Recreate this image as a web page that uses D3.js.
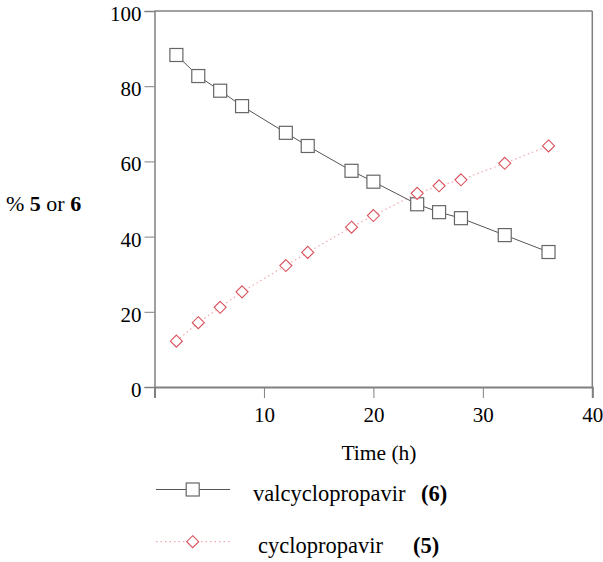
<!DOCTYPE html>
<html>
<head>
<meta charset="utf-8">
<script src="https://cdn.jsdelivr.net/npm/d3@7"></script>
<style>
  html, body { margin: 0; padding: 0; background: #fff; }
  svg { display: block; }
  svg text { font-family: "Liberation Serif", Tinos, "Times New Roman", Times, "DejaVu Serif", serif !important; }
</style>
</head>
<body>
<svg id="chart" width="603" height="562"></svg>
<script>
const timeH = [2, 4, 6, 8, 12, 14, 18, 20, 24, 26, 28, 32, 36];
const valcyclopropavir = [88.3, 82.7, 78.8, 74.7, 67.6, 64.1, 57.5, 54.6, 48.6, 46.5, 44.9, 40.4, 35.9];
const cyclopropavir = [12.2, 17.1, 21.2, 25.3, 32.3, 35.8, 42.5, 45.6, 51.5, 53.5, 55.1, 59.5, 64.1];
const xTicks = [0, 10, 20, 30, 40];
const xTickLabels = ["", "10", "20", "30", "40"];
const yTicks = [0, 20, 40, 60, 80, 100];
const seriesNames = ["valcyclopropavir", "cyclopropavir"];
const seriesTags = ["(6)", "(5)"];

(function () {
const svg = d3.select("#chart");
const pLeft = 154.5, pTop = 11, pRight = 592.3, pBottom = 387;
const x = d3.scaleLinear().domain([0, 40]).range([pLeft, pRight]);
const y = d3.scaleLinear().domain([0, 100]).range([pBottom, pTop]);
const axisColor = "#808080";

svg.append("line").attr("x1", pLeft).attr("x2", pRight).attr("y1", pTop).attr("y2", pTop)
  .attr("stroke", axisColor).attr("stroke-width", 1.5);
svg.append("line").attr("x1", pRight).attr("x2", pRight).attr("y1", pTop).attr("y2", pBottom)
  .attr("stroke", axisColor).attr("stroke-width", 1.5);

const xAxis = d3.axisBottom(x).tickValues(xTicks).tickSize(11).tickPadding(6)
  .tickFormat((d, i) => xTickLabels[i]);
const gx = svg.append("g").attr("transform", `translate(0,${pBottom})`).call(xAxis);
gx.attr("font-family", null);
gx.select(".domain").attr("stroke", axisColor).attr("stroke-width", 2);
gx.selectAll(".tick line").attr("stroke", axisColor).attr("stroke-width", 1);
gx.selectAll(".tick text").attr("font-size", 21).attr("fill", "#000").attr("dy", "0.85em");

const yAxis = d3.axisLeft(y).tickValues(yTicks).tickSize(10).tickPadding(3);
const gy = svg.append("g").attr("transform", `translate(${pLeft},0)`).call(yAxis);
gy.attr("font-family", null);
gy.select(".domain").attr("stroke", axisColor).attr("stroke-width", 1.5);
gy.selectAll(".tick line").attr("stroke", axisColor).attr("stroke-width", 1);
gy.selectAll(".tick text").attr("font-size", 21).attr("fill", "#000").attr("dy", "0.45em");

svg.append("text").attr("x", 379).attr("y", 459.5).attr("text-anchor", "middle")
  .attr("font-size", 21.5).text("Time (h)");
const yt = svg.append("text").attr("x", 6).attr("y", 211).attr("font-size", 22);
yt.append("tspan").text("% ");
yt.append("tspan").attr("font-weight", "bold").text("5");
yt.append("tspan").text(" or ");
yt.append("tspan").attr("font-weight", "bold").text("6");

const sqColor = "#666666", diaColor = "#d9505a";
const line = d3.line().x(d => x(d[0])).y(d => y(d[1]));
const valData = timeH.map((t, i) => [t, valcyclopropavir[i]]);
const cycData = timeH.map((t, i) => [t, cyclopropavir[i]]);

svg.append("path").datum(cycData).attr("d", line).attr("fill", "none")
  .attr("stroke", "#f0a8ae").attr("stroke-width", 1.2).attr("stroke-dasharray", "1.5,3");
svg.append("path").datum(valData).attr("d", line).attr("fill", "none")
  .attr("stroke", "#555").attr("stroke-width", 1);

const sq = 13;
svg.selectAll("rect.sq").data(valData).enter().append("rect").attr("class", "sq")
  .attr("x", d => x(d[0]) - sq / 2).attr("y", d => y(d[1]) - sq / 2)
  .attr("width", sq).attr("height", sq).attr("fill", "#fff").attr("stroke", sqColor).attr("stroke-width", 1.2);

const diamond = (cx, cy, r) => `M${cx},${cy - r}L${cx + r},${cy}L${cx},${cy + r}L${cx - r},${cy}Z`;
svg.selectAll("path.dia").data(cycData).enter().append("path").attr("class", "dia")
  .attr("d", d => diamond(x(d[0]), y(d[1]), 6)).attr("fill", "#fff")
  .attr("stroke", diaColor).attr("stroke-width", 1.1);

const legY = [489.5, 541.7];
const legTextX = [253, 258];
const legTagX = [421, 413];
svg.append("line").attr("x1", 156).attr("x2", 230).attr("y1", legY[0]).attr("y2", legY[0])
  .attr("stroke", "#555").attr("stroke-width", 1);
svg.append("rect").attr("x", 192.7 - sq / 2).attr("y", legY[0] - sq / 2).attr("width", sq).attr("height", sq)
  .attr("fill", "#fff").attr("stroke", sqColor).attr("stroke-width", 1.2);
svg.append("line").attr("x1", 156).attr("x2", 230).attr("y1", legY[1]).attr("y2", legY[1])
  .attr("stroke", "#f0a8ae").attr("stroke-width", 1.2).attr("stroke-dasharray", "1.5,3");
svg.append("path").attr("d", diamond(192.7, legY[1], 6)).attr("fill", "#fff")
  .attr("stroke", diaColor).attr("stroke-width", 1.1);

seriesNames.forEach((n, i) => {
  svg.append("text").attr("x", legTextX[i]).attr("y", legY[i] + 11).attr("font-size", 22.5).text(n);
  svg.append("text").attr("x", legTagX[i]).attr("y", legY[i] + 11).attr("font-size", 22.5)
    .attr("font-weight", "bold").text(seriesTags[i]);
});
})();
</script>
</body>
</html>
